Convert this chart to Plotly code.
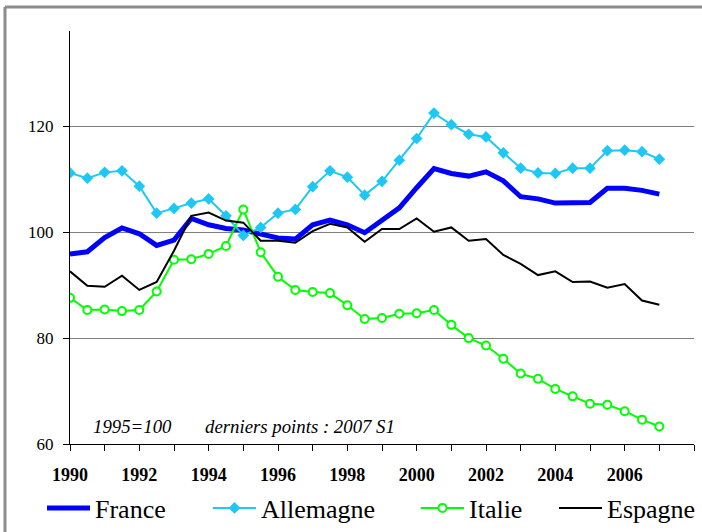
import plotly.graph_objects as go

# Semiannual periods 1990 S1 .. 2007 S1
periods = [1990 + 0.5 * i for i in range(35)]

france = [95.9, 96.3, 99.0, 100.8, 99.7, 97.5, 98.5, 102.6, 101.4, 100.7,
          100.4, 99.6, 98.9, 98.7, 101.4, 102.3, 101.4, 99.9, 102.2, 104.6,
          108.4, 112.0, 111.1, 110.6, 111.4, 109.7, 106.7, 106.3, 105.5, 105.5,
          105.6, 108.3, 108.3, 107.9, 107.2]
allemagne = [111.2, 110.2, 111.3, 111.6, 108.7, 103.6, 104.5, 105.5, 106.3, 103.1,
             99.4, 100.9, 103.6, 104.3, 108.6, 111.6, 110.4, 107.0, 109.6, 113.6,
             117.7, 122.5, 120.3, 118.5, 118.0, 115.0, 112.1, 111.2, 111.1, 112.1,
             112.1, 115.4, 115.5, 115.2, 113.8]
italie = [87.6, 85.3, 85.4, 85.1, 85.3, 88.8, 94.8, 94.9, 95.9, 97.4,
          104.3, 96.2, 91.6, 89.1, 88.7, 88.5, 86.2, 83.6, 83.8, 84.6,
          84.7, 85.3, 82.5, 80.0, 78.6, 76.1, 73.3, 72.3, 70.4, 69.0,
          67.6, 67.4, 66.2, 64.6, 63.3]
espagne = [92.6, 89.9, 89.7, 91.8, 89.1, 90.6, 96.5, 103.1, 103.7, 102.2,
           101.8, 98.4, 98.4, 98.0, 100.2, 101.6, 100.9, 98.2, 100.6, 100.6,
           102.6, 100.1, 100.9, 98.4, 98.7, 95.7, 94.0, 91.9, 92.6, 90.6,
           90.7, 89.5, 90.2, 87.1, 86.3]

x_tickvals = list(range(1990, 2009))
x_ticktext = [str(y) if (y % 2 == 0 and y < 2008) else "" for y in x_tickvals]
y_tickvals = [60, 80, 100, 120]

W, H = 702, 532
ML, MR, MT, MB = 70, 8, 31, 88
PW, PH = W - ML - MR, H - MT - MB


def px_x(p):
    return (p - ML) / PW


def px_y(p):
    return (H - MB - p) / PH


serif = "Liberation Serif, Times New Roman, serif"

fig = go.Figure()
fig.add_trace(go.Scatter(x=periods, y=france, name="France", mode="lines",
                         line=dict(color="#0000FF", width=5), legend="legend"))
fig.add_trace(go.Scatter(x=periods, y=allemagne, name="Allemagne", mode="lines+markers",
                         line=dict(color="#1EC8F5", width=2),
                         marker=dict(symbol="diamond", size=9, color="#1EC8F5"),
                         legend="legend2"))
fig.add_trace(go.Scatter(x=periods, y=italie, name="Italie", mode="lines+markers",
                         line=dict(color="#00FF00", width=2),
                         marker=dict(symbol="circle", size=8, color="white",
                                     line=dict(color="#00FF00", width=2)),
                         legend="legend3"))
fig.add_trace(go.Scatter(x=periods, y=espagne, name="Espagne", mode="lines",
                         line=dict(color="black", width=2), legend="legend4"))

legend_common = dict(orientation="h", xanchor="left", yanchor="middle",
                     font=dict(family=serif, size=26, color="black"),
                     bgcolor="rgba(0,0,0,0)", itemwidth=43, tracegroupgap=0)
ly = px_y(508)
fig.update_layout(
    legend=dict(x=px_x(42), y=ly, **legend_common),
    legend2=dict(x=px_x(208), y=ly, **legend_common),
    legend3=dict(x=px_x(416), y=ly, **legend_common),
    legend4=dict(x=px_x(554), y=ly, **legend_common),
)

fig.update_xaxes(range=[1990, 2008], tickvals=x_tickvals, ticktext=x_ticktext,
                 showgrid=False, zeroline=False, showline=True, linecolor="black",
                 linewidth=1, ticks="outside", ticklen=6, tickcolor="black",
                 ticklabelstandoff=8,
                 tickfont=dict(family=serif, size=18, color="black", weight="bold"))
fig.update_yaxes(range=[60, 138], tickvals=y_tickvals, showgrid=True,
                 gridcolor="#808080", gridwidth=1, zeroline=False, showline=True,
                 linecolor="black", linewidth=1, ticks="outside", ticklen=6,
                 tickcolor="black", ticklabelstandoff=6,
                 tickfont=dict(family=serif, size=17, color="black"))

fig.add_annotation(x=px_x(91), y=px_y(426), xref="paper", yref="paper",
                   text="<i>1995=100</i>", showarrow=False, xanchor="left",
                   yanchor="middle", font=dict(family=serif, size=18.8, color="black"))
fig.add_annotation(x=px_x(203), y=px_y(426), xref="paper", yref="paper",
                   text="<i>derniers points : 2007 S1</i>", showarrow=False,
                   xanchor="left", yanchor="middle",
                   font=dict(family=serif, size=18.8, color="black"))

# outer frame (gray border at left and top)
fig.add_shape(type="line", xref="paper", yref="paper",
              x0=px_x(5), x1=px_x(710), y0=px_y(7), y1=px_y(7),
              line=dict(color="#8c8c8c", width=3))
fig.add_shape(type="line", xref="paper", yref="paper",
              x0=px_x(5), x1=px_x(5), y0=px_y(7), y1=px_y(540),
              line=dict(color="#8c8c8c", width=3))

fig.update_layout(width=W, height=H,
                  margin=dict(l=ML, r=MR, t=MT, b=MB, autoexpand=False),
                  paper_bgcolor="white", plot_bgcolor="white",
                  showlegend=True)

fig.write_html("out.html",
               config={"displayModeBar": False},
               post_script="document.body.style.margin='0';"
                           "document.body.style.overflow='hidden';")
